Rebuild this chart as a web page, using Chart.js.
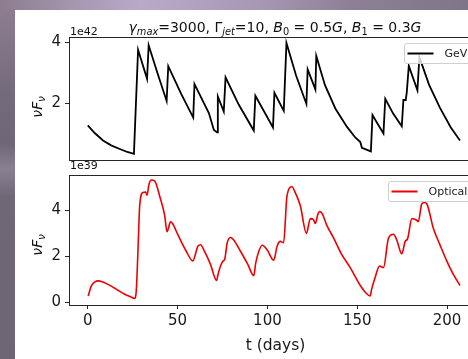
<!DOCTYPE html>
<html><head><meta charset="utf-8">
<script src="https://cdn.jsdelivr.net/npm/chart.js@4"></script>
<style>
html,body{margin:0;padding:0;}
body{width:468px;height:359px;overflow:hidden;position:relative;font-family:"DejaVu Sans",sans-serif;
background:linear-gradient(180deg,#8f8092 0%,#756b7d 25%,#6f6676 40%,#8a8092 47%,#6f6676 55%,#6e6574 100%);}
#topstrip{position:absolute;left:0;top:0;width:468px;height:10px;background:linear-gradient(90deg,#8c7c8e 0%,#a595ad 15%,#bba9c9 30%,#a898b4 55%,#8d8096 75%,#7e7688 100%);}
#paper{position:absolute;left:15px;top:10px;width:460px;height:349px;background:#fff;}
canvas{position:absolute;}
.t{position:absolute;color:#111;white-space:nowrap;line-height:1;}
.sub{font-size:70%;position:relative;top:0.3em;}
</style></head>
<body>
<div id="topstrip"></div>
<div id="paper"></div>
<canvas id="c1" width="490" height="163" style="left:15px;top:10px;width:490px;height:163px"></canvas>
<canvas id="c2" width="490" height="197" style="left:15px;top:162px;width:490px;height:197px"></canvas>
<div class="t" id="title" style="left:275px;top:20px;font-size:14px;transform:translateX(-50%)"><i>γ</i><span class="sub"><i>max</i></span>=3000, Γ<span class="sub"><i>jet</i></span>=10, <i>B</i><span class="sub">0</span> = 0.5<i>G</i>, <i>B</i><span class="sub">1</span> = 0.3<i>G</i></div>
<div class="t" style="left:70px;top:26px;font-size:11px">1e42</div>
<div class="t" style="left:70px;top:160px;font-size:11px">1e39</div>
<div class="t" style="left:37px;top:107px;font-size:14px;transform:translate(-50%,-50%) rotate(-90deg)"><i>νF</i><span class="sub"><i>ν</i></span></div>
<div class="t" style="left:37px;top:245px;font-size:14px;transform:translate(-50%,-50%) rotate(-90deg)"><i>νF</i><span class="sub"><i>ν</i></span></div>
<script>
// ---- data ----
const gevT = [0,4,8.5,13,17.8,22,25.7,28,33,33.9,39,43.9,44.8,52,58.7,59.4,62.8,67.4,70.2,72.0,72.4,75.7,76.7,84,92.4,93.3,103.1,103.9,109.1,110.6,116,121.7,122.4,126.7,127.2,132,137.8,144.3,148.9,151.7,152.6,157.6,158.5,161,164.6,165.6,170,174.8,175.7,177.0,177.6,178.7,183.5,184.6,190,196,202,207.2];
const gevV = [1.26,1.0,0.76,0.6,0.48,0.38,0.32,3.76,2.80,3.91,2.95,2.07,3.22,2.3,1.52,2.63,2.22,1.67,1.11,1.03,2.22,1.72,2.85,1.95,1.09,2.24,1.19,2.34,1.74,3.99,2.9,1.97,3.11,2.45,3.56,2.6,1.82,1.21,0.86,0.71,0.52,0.40,1.60,1.35,0.99,2.14,1.65,1.23,2.10,2.10,2.37,3.23,2.42,3.52,2.6,1.85,1.2,0.76];
const optT = [0.2,2,4,6,8,11,14,17,20.5,23.5,26.1,27,28.2,28.9,30.7,32.2,33,34,35.4,37.2,40,42.8,44.1,46.1,47.2,50.2,54.8,58.5,61.3,62.8,65,68.3,71.7,72.5,73.9,75.4,76.2,77.6,79.4,81,85,89,92.4,93.5,95.2,97.1,100,103.5,105.4,107.2,109,110.9,113.7,115,118.3,121.7,123.9,125.5,126.7,128,129.1,130.5,133,136.9,141,146.1,151.7,155,157.2,158,160,162.4,164.6,167.4,170.2,172,174.8,176.7,178,180.4,183.1,184,185.9,187.5,188.7,192.4,196,199.8,203.5,207.2];
const optV = [0.26,0.7,0.88,0.92,0.88,0.78,0.65,0.5,0.34,0.24,0.16,0.5,2.8,4.2,4.77,4.79,4.65,5.1,5.31,5.27,4.62,3.77,3.06,3.49,3.42,2.92,2.21,1.79,2.43,2.49,2.2,1.64,0.94,1.2,1.57,1.79,1.85,2.57,2.81,2.72,2.21,1.65,1.15,1.7,2.21,2.47,2.25,1.82,2.43,2.64,2.58,4.62,5.02,4.85,4.2,2.99,3.63,3.6,3.42,3.8,3.94,3.85,3.35,2.78,2.12,1.50,0.72,0.38,0.26,0.55,1.08,1.57,1.50,2.78,2.95,2.7,2.10,2.64,2.75,3.63,3.56,3.5,4.27,4.33,4.28,3.2,2.5,1.79,1.2,0.72];
const xTicks = [0,50,100,150,200];
const yTicksTop = [2,4];
const yTicksBottom = [0,2,4];
const seriesNames = ['GeV','Optical'];
const xLabel = 't (days)';

const FONT = '"DejaVu Sans", sans-serif';
const INK = '#1a1a1a';

const framePlugin = {
  id:'frame',
  afterDraw(chart){
    const {ctx, chartArea:a} = chart;
    ctx.save();
    ctx.strokeStyle = '#262626'; ctx.lineWidth = 1;
    ctx.strokeRect(Math.round(a.left)+0.5, Math.round(a.top)+0.5, Math.round(a.right-a.left), Math.round(a.bottom-a.top));
    ctx.restore();
  }
};
const legendPlugin = {
  id:'mplLegend',
  afterDatasetsDraw(chart, args, opts){
    const {ctx, chartArea:a} = chart;
    ctx.save();
    ctx.font = '11px ' + FONT;
    const tw = ctx.measureText(opts.text).width;
    const h = 20, padL = 3, lineL = 26, gap = 11, padR = 5;
    const w = padL + lineL + gap + tw + padR;
    const x = Math.round(a.right - 10 - w) + 0.5, y = Math.round(a.top + 6) + 0.5;
    const r = 2.5;
    ctx.beginPath();
    ctx.moveTo(x+r,y); ctx.lineTo(x+w-r,y); ctx.quadraticCurveTo(x+w,y,x+w,y+r);
    ctx.lineTo(x+w,y+h-r); ctx.quadraticCurveTo(x+w,y+h,x+w-r,y+h);
    ctx.lineTo(x+r,y+h); ctx.quadraticCurveTo(x,y+h,x,y+h-r);
    ctx.lineTo(x,y+r); ctx.quadraticCurveTo(x,y,x+r,y); ctx.closePath();
    ctx.fillStyle = 'rgba(255,255,255,0.8)'; ctx.fill();
    ctx.strokeStyle = '#d0d0d0'; ctx.lineWidth = 1; ctx.stroke();
    ctx.beginPath();
    ctx.moveTo(x+padL, y+h/2); ctx.lineTo(x+padL+lineL, y+h/2);
    ctx.strokeStyle = opts.color; ctx.lineWidth = 2; ctx.stroke();
    ctx.fillStyle = INK; ctx.textBaseline = 'middle'; ctx.textAlign = 'left';
    ctx.fillText(opts.text, x+padL+lineL+gap, y+h/2+0.5);
    ctx.restore();
  }
};

function pts(T,V){ return T.map((t,i)=>({x:t,y:V[i]})); }

function makeChart(id, cfg){
  return new Chart(document.getElementById(id), {
    type:'line',
    data:{datasets:[{
      label:cfg.name, data:pts(cfg.T,cfg.V), borderColor:cfg.color, borderWidth:cfg.bw,
      pointRadius:0, fill:false, tension:cfg.tension, cubicInterpolationMode:cfg.cubic
    }]},
    plugins:[framePlugin, legendPlugin],
    options:{
      responsive:false, animation:false, devicePixelRatio:1,
      layout:{padding:cfg.padding},
      plugins:{legend:{display:false}, tooltip:{enabled:false}, mplLegend:{text:cfg.name, color:cfg.color}},
      scales:{
        x:{type:'linear', min:-10.45, max:219.45, display:cfg.showX,
           afterBuildTicks:s=>{ s.ticks = xTicks.map(v=>({value:v})); },
           afterFit:s=>{ if(cfg.showX) s.height = cfg.xh; },
           grid:{display:true, drawOnChartArea:false, drawTicks:true, tickLength:4, color:'#262626', tickWidth:1},
           border:{display:false},
           ticks:{color:INK, font:{family:FONT, size:15}, padding:3, maxRotation:0, autoSkip:false},
           title:{display:cfg.showX, text:xLabel, color:INK, font:{family:FONT, size:15.5}, padding:{top:0,bottom:4}}
        },
        y:{type:'linear', min:cfg.ymin, max:cfg.ymax,
           afterBuildTicks:s=>{ s.ticks = cfg.yTicks.map(v=>({value:v})); },
           afterFit:s=>{ s.width = 54; },
           grid:{display:true, drawOnChartArea:false, drawTicks:true, tickLength:4, color:'#262626', tickWidth:1},
           border:{display:false},
           ticks:{color:INK, font:{family:FONT, size:15}, padding:4, callback:v=>String(v)}
        }
      }
    }
  });
}

makeChart('c1', {name:seriesNames[0], T:gevT, V:gevV, color:'#000000', bw:1.8, tension:0, cubic:'default',
  padding:{top:27,left:0,right:23,bottom:1}, showX:false, ymin:0.115, ymax:4.185, yTicks:yTicksTop});
makeChart('c2', {name:seriesNames[1], T:optT, V:optV, color:'#ee0000', bw:1.6, tension:0.4, cubic:'monotone',
  padding:{top:10,left:0,right:23,bottom:0}, showX:true, xh:54, ymin:-0.13, ymax:5.53, yTicks:yTicksBottom});
</script>
</body></html>
